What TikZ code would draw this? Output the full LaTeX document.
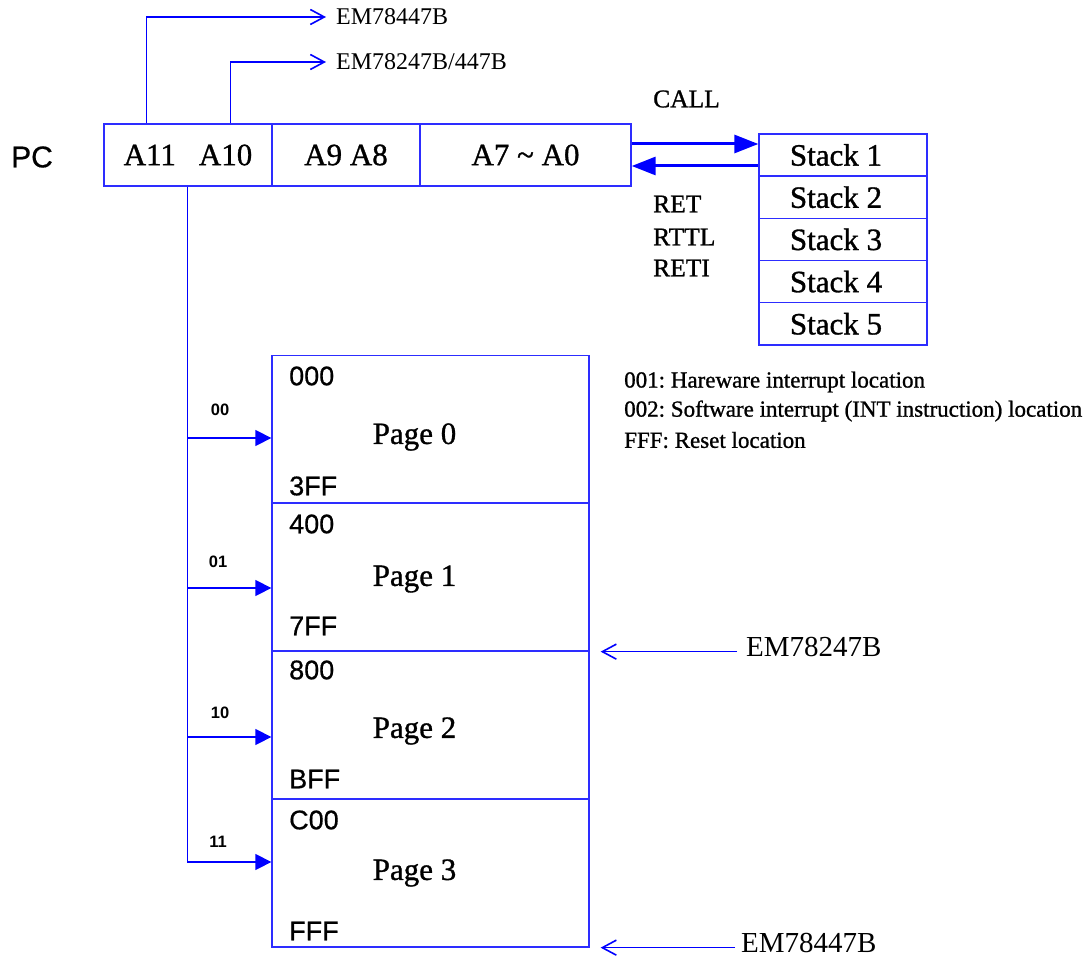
\documentclass[tikz,border=0pt]{standalone}
\usepackage{fontspec}
\setmainfont{Liberation Serif}
\setsansfont{Liberation Sans}
\newfontfamily\hvy[FakeBold=1]{Liberation Serif}
\newfontfamily\hvsans[FakeBold=0.6]{Liberation Sans}
\usetikzlibrary{arrows.meta,calc}
\definecolor{lineblue}{RGB}{0,0,255}
\definecolor{boxblue}{RGB}{45,45,255}
\tikzset{
  cell/.style={draw=boxblue, line width=1.4pt, inner sep=0pt, minimum height=62pt, anchor=center},
  big/.style={font=\hvy\fontsize{31}{31}\selectfont},
  stackcell/.style={draw=boxblue, line width=1.3pt, inner sep=0pt, minimum width=168pt, minimum height=42.2pt, font=\hvy\fontsize{31}{31}\selectfont},
  pagecell/.style={draw=boxblue, line width=1.3pt, inner sep=0pt, minimum width=317pt, minimum height=148pt},
  pagename/.style={inner sep=0pt, font=\hvy\fontsize{31}{31}\selectfont},
  addr/.style={anchor=west, inner sep=0pt, font=\hvsans\fontsize{27}{27}\selectfont},
  sel/.style={inner sep=0pt, font=\sffamily\bfseries\fontsize{16.5}{16.5}\selectfont},
  emsmall/.style={anchor=west, inner sep=0pt, font=\fontsize{24}{24}\selectfont},
  emlarge/.style={anchor=west, inner sep=0pt, font=\fontsize{29}{29}\selectfont},
  instr/.style={anchor=west, inner sep=0pt, font=\hvy\fontsize{25.5}{25.5}\selectfont},
  note/.style={anchor=west, inner sep=0pt, font=\hvy\fontsize{23}{23}\selectfont},
  wire/.style={draw=lineblue, line width=1.4pt},
  barb/.style={wire, -{Straight Barb[length=14pt,width=15pt,line width=1.6pt]}},
  branch/.style={wire, -{Triangle[length=16pt,width=16pt]}},
  bus/.style={draw=lineblue, line width=3pt, -{Triangle[length=24pt,width=18pt]}},
}
\begin{document}
\frenchspacing
\begin{tikzpicture}[x=1pt,y=-1pt]
\useasboundingbox (0,0) rectangle (1091,957);

% PC label and register
\node[inner sep=0pt, font=\hvsans\fontsize{30}{30}\selectfont] (pc) at (32,157) {PC};
\node[cell, minimum width=168pt, big] (c1) at (188,155) {A11\hspace{23pt}A10};
\node[cell, minimum width=148pt, big] (c2) at (346,155) {A9 A8};
\node[cell, minimum width=211pt, big] (c3) at (525.5,155) {A7 \char`~\ A0};

% top outputs
\node[emsmall] (e1) at (336,17) {EM78447B};
\node[emsmall] (e2) at (336,62) {EM78247B/447B};
\draw[barb] ($(c1.north west)+(43,0)$) |- ($(e1.west)+(-10,0)$);
\draw[barb] ($(c1.north west)+(127,0)$) |- ($(e2.west)+(-10,0)$);

% stack
\node[stackcell] (s1) at (843,155) {Stack 1\hspace*{14pt}};
\node[stackcell] (s2) at (843,197.2) {Stack 2\hspace*{14pt}};
\node[stackcell] (s3) at (843,239.4) {Stack 3\hspace*{14pt}};
\node[stackcell] (s4) at (843,281.6) {Stack 4\hspace*{14pt}};
\node[stackcell] (s5) at (843,323.8) {Stack 5\hspace*{14pt}};

\draw[bus] ([yshift=11pt]c3.east) -- ([yshift=11pt]s1.west);
\draw[bus] ([yshift=-11pt]s1.west) -- ([yshift=-11pt]c3.east);

\node[instr] (call) at (653,99) {CALL};
\node[instr] (ret) at (653,204) {RET};
\node[instr] (rttl) at (653,237) {RTTL};
\node[instr] (reti) at (653,268) {RETI};

% notes
\node[note] (n1) at (624,382) {001: Hareware interrupt location};
\node[note] (n2) at (624,411) {002: Software interrupt (INT instruction) location};
\node[note] (n3) at (624,440) {FFF: Reset location};

% memory pages
\node[pagecell] (p0) at (430.5,429.5) {};
\node[pagecell] (p1) at (430.5,577) {};
\node[pagecell] (p2) at (430.5,725) {};
\node[pagecell] (p3) at (430.5,873) {};
\node[pagename] (t0) at (414.5,437) {Page 0};
\node[pagename] (t1) at (414.5,579) {Page 1};
\node[pagename] (t2) at (414.5,731) {Page 2};
\node[pagename] (t3) at (414.5,873) {Page 3};

\node[addr] (a000) at (289,376) {000};
\node[addr] (a3ff) at (289,486) {3FF};
\node[addr] (a400) at (289,524) {400};
\node[addr] (a7ff) at (289,626) {7FF};
\node[addr] (a800) at (289,670) {800};
\node[addr] (abff) at (289,779) {BFF};
\node[addr] (ac00) at (289,820) {C00};
\node[addr] (afff) at (289,931) {FFF};

% page select bus
\coordinate (tt) at ($(c1.south west)+(84,0)$);
\coordinate (b0) at ($(p0.west)+(0,8.5)$);
\coordinate (b1) at ($(p1.west)+(0,11)$);
\coordinate (b2) at ($(p2.west)+(0,12)$);
\coordinate (b3) at ($(p3.west)+(0,-11)$);
\draw[branch] (tt) |- (b3);
\draw[branch] (tt |- b0) -- (b0);
\draw[branch] (tt |- b1) -- (b1);
\draw[branch] (tt |- b2) -- (b2);

\node[sel] (l00) at (220,410) {00};
\node[sel] (l01) at (218,562) {01};
\node[sel] (l10) at (220,713) {10};
\node[sel] (l11) at (218,842) {11};

% right side markers
\node[emlarge] (r1) at (746,647) {EM78247B};
\node[emlarge] (r2) at (741,943) {EM78447B};
\draw[barb] ($(r1.west |- p1.south east)+(-9,0)$) -- ($(p1.south east)+(11,0)$);
\draw[barb] ($(r2.west |- p3.south east)+(-6,0)$) -- ($(p3.south east)+(11,0)$);
\end{tikzpicture}
\end{document}
